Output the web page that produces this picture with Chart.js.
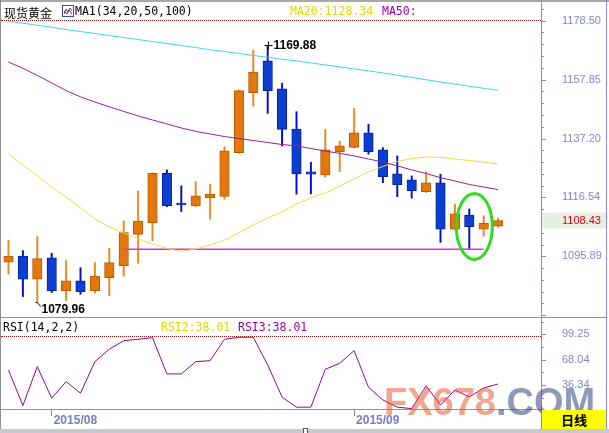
<!DOCTYPE html>
<html>
<head>
<meta charset="utf-8">
<script src="https://cdn.jsdelivr.net/npm/chart.js@4.4.0/dist/chart.umd.min.js"></script>
<style>
  html, body { margin: 0; padding: 0; background: #fff; }
  #wrap { position: relative; width: 609px; height: 433px; overflow: hidden; background: #fff; }
  canvas { position: absolute; left: 0; }
  #main { top: 0; }
  #rsi { top: 317px; }
  .t { position: absolute; white-space: nowrap; line-height: 14px; height: 14px; }
  .mono { font-family: "DejaVu Sans Mono", monospace; font-size: 11.5px; }
  .ln { position: absolute; }
</style>
</head>
<body>
<div id="wrap">
  <canvas id="main" width="609" height="317"></canvas>
  <canvas id="rsi" width="609" height="116"></canvas>

  <!-- frame -->
  <div class="ln" style="left:0;top:0;width:609px;height:2px;background:#a8a8a8"></div>
  <div class="ln" style="left:0;top:0;width:1px;height:429px;background:#909090"></div>
  <div class="ln" style="left:1px;top:20px;width:540px;height:0;border-top:1px dotted #9a1010"></div>
  <div class="ln" style="left:1px;top:336px;width:540px;height:0;border-top:1px dotted #9a1010"></div>
  <div class="ln" style="left:0;top:317px;width:607px;height:1px;background:#8a8ad2"></div>
  <div class="ln" style="left:0;top:409px;width:541px;height:1px;background:#8a8ad2"></div>
  <div class="ln" style="left:541px;top:0;width:1px;height:430px;background:#8a8ad2"></div>
  <div class="ln" style="left:606px;top:0;width:1px;height:430px;background:#8a8ad2"></div>
  <div class="ln" style="left:0;top:429px;width:609px;height:4px;background:#c9c9d2"></div>
  <div class="ln" style="left:303px;top:428px;width:3px;height:5px;background:#fff;border:1px solid #555"></div>

  <!-- headers -->
  <div class="t" style="left:4px;top:4px;font:12px 'Noto Sans CJK SC';color:#000">现货黄金</div>
  <svg style="position:absolute;left:62px;top:5px" width="12" height="12">
    <rect x="0.5" y="0.5" width="11" height="11" fill="#fff" stroke="#3050b0"/>
    <polyline points="2,9 4,4 6,7 8,3 10,6" fill="none" stroke="#d02020" stroke-width="1"/>
    <polyline points="2,6 5,9 7,5 10,9" fill="none" stroke="#2040c0" stroke-width="1"/>
  </svg>
  <div class="t mono" style="left:75px;top:4px;color:#000">MA1(34,20,50,100)</div>
  <div class="t mono" id="ma20lbl" style="left:290px;top:4px;color:#e2d800"></div>
  <div class="t mono" style="left:382px;top:4px;color:#a000a0">MA50:</div>

  <div class="t mono" style="left:3px;top:320px;color:#000">RSI(14,2,2)</div>
  <div class="t mono" id="rsi2lbl" style="left:161px;top:320px;color:#e2d800"></div>
  <div class="t mono" id="rsi3lbl" style="left:238px;top:320px;color:#a000a0"></div>

  <!-- watermark -->
  <div class="t" style="left:384px;top:381px;height:38px;line-height:38px;font:bold 38px 'Liberation Sans';">
    <span style="color:rgba(232,84,40,0.52)">FX678</span><span style="color:rgba(50,70,130,0.55)">.COM</span>
  </div>

  <div class="ln" style="left:542px;top:410px;width:64px;height:19px;background:#ffff00;text-align:center;font:bold 13px 'Noto Sans CJK SC';line-height:19px;color:#000">日线</div>
</div>

<script>
// daily spot gold, 2015/07/29 .. 2015/09/15
const dates = ["2015/07/29", "2015/07/30", "2015/07/31", "2015/08/03", "2015/08/04", "2015/08/05", "2015/08/06",
  "2015/08/07", "2015/08/10", "2015/08/11", "2015/08/12", "2015/08/13", "2015/08/14", "2015/08/17", "2015/08/18",
  "2015/08/19", "2015/08/20", "2015/08/21", "2015/08/24", "2015/08/25", "2015/08/26", "2015/08/27", "2015/08/28",
  "2015/08/31", "2015/09/01", "2015/09/02", "2015/09/03", "2015/09/04", "2015/09/07", "2015/09/08", "2015/09/09",
  "2015/09/10", "2015/09/11", "2015/09/14", "2015/09/15"];

const opens = [1093.9, 1096.0, 1087.9, 1095.4, 1083.8, 1087.3, 1083.9, 1088.4, 1092.6, 1103.6, 1107.7, 1125.0,
  1114.3, 1113.6, 1116.5, 1116.9, 1132.2, 1153.3, 1164.4, 1154.6, 1140.5, 1125.5, 1124.4, 1132.6, 1134.1, 1139.2,
  1133.2, 1124.8, 1122.7, 1118.6, 1121.7, 1105.4, 1110.4, 1105.4, 1106.5];
const highs = [1101.6, 1097.9, 1102.8, 1097.0, 1094.4, 1091.9, 1093.7, 1098.7, 1108.3, 1118.8, 1125.2, 1126.2,
  1120.6, 1122.1, 1121.2, 1134.3, 1154.2, 1168.2, 1169.88, 1156.6, 1146.6, 1128.9, 1140.4, 1136.3, 1147.8, 1142.2,
  1134.0, 1131.1, 1124.1, 1125.6, 1124.7, 1114.2, 1112.5, 1110.1, 1109.2];
const lows = [1089.7, 1081.8, 1079.96, 1083.2, 1080.4, 1082.6, 1083.0, 1082.1, 1089.0, 1093.5, 1101.4, 1113.3,
  1111.6, 1113.3, 1108.9, 1115.9, 1132.0, 1148.6, 1146.0, 1134.6, 1117.7, 1117.8, 1123.6, 1125.6, 1133.8, 1131.7,
  1121.7, 1116.8, 1116.3, 1118.3, 1100.8, 1105.1, 1098.4, 1103.0, 1106.1];
const closes = [1096.0, 1087.9, 1095.1, 1083.8, 1087.3, 1083.5, 1089.0, 1093.7, 1104.2, 1108.3, 1125.0, 1113.7,
  1113.9, 1117.1, 1117.7, 1132.9, 1154.0, 1160.5, 1154.0, 1140.4, 1124.8, 1124.7, 1133.2, 1134.6, 1139.2, 1132.6,
  1123.8, 1120.9, 1118.9, 1121.7, 1105.4, 1110.8, 1106.3, 1107.5, 1108.43];

const ma20 = [1131.8, 1127.9, 1124.1, 1120.2, 1116.7, 1112.9, 1109.0, 1106.2, 1104.1, 1102.0, 1100.2, 1098.7,
  1097.6, 1098.5, 1099.9, 1101.6, 1104.1, 1106.9, 1109.4, 1111.5, 1114.3, 1116.4, 1118.1, 1120.6, 1123.0, 1125.5,
  1127.4, 1129.2, 1130.2, 1130.7, 1130.6, 1130.0, 1129.5, 1128.9, 1128.34];
const ma50 = [1164.0, 1161.8, 1159.3, 1156.7, 1154.0, 1151.8, 1150.0, 1148.3, 1146.7, 1145.1, 1143.7, 1142.3,
  1140.9, 1139.7, 1138.8, 1137.9, 1137.2, 1136.5, 1135.8, 1135.1, 1134.6, 1133.7, 1132.8, 1132.0, 1131.1, 1130.0,
  1129.0, 1127.6, 1126.2, 1124.9, 1123.5, 1122.3, 1121.1, 1120.2, 1119.3];
const ma100 = [1178.3, 1177.6, 1176.9, 1176.2, 1175.4, 1174.7, 1174.0, 1173.3, 1172.6, 1171.9, 1171.2, 1170.5,
  1169.8, 1169.1, 1168.3, 1167.7, 1167.0, 1166.3, 1165.7, 1165.0, 1164.4, 1163.7, 1163.0, 1162.3, 1161.6, 1160.9,
  1160.2, 1159.4, 1158.6, 1157.8, 1157.0, 1156.3, 1155.5, 1154.8, 1154.1];

const rsi = [55.3, 11.3, 59.4, 20.4, 40.9, 26.6, 65.5, 80.8, 91.4, 93.1, 95.1, 50.4, 50.4, 65.5, 66.7, 93.1, 95.6,
  95.6, 61.4, 21.7, 9.4, 9.4, 56.1, 63.5, 79.1, 34.0, 18.3, 9.4, 7.6, 35.5, 12.0, 30.5, 22.0, 33.0, 38.01];

const priceTicks = [1178.50, 1157.85, 1137.20, 1116.54, 1095.89];
const rsiTicks = [99.25, 68.04, 36.34];

// horizontal support line and the circled candles
const supportLevel = 1098.4;
const supportFrom = 8;
const supportTo = 33;
const circleIndex = 32.35;
const circlePrice = 1106.4;

const lastOf = a => a[a.length - 1];
document.getElementById("ma20lbl").textContent = "MA20:" + lastOf(ma20).toFixed(2);
document.getElementById("rsi2lbl").textContent = "RSI2:" + lastOf(rsi).toFixed(2);
document.getElementById("rsi3lbl").textContent = "RSI3:" + lastOf(rsi).toFixed(2);

const idx = dates.map((d, i) => i);
const up = closes.map((c, i) => c >= opens[i]);
const xMin = -0.59, xMax = 36.98;
const axisColor = "#8484cc";

function minorTicks(ticks, parts) {
  return {
    id: "minorTicks",
    afterDraw(chart) {
      const { ctx, scales: { y } } = chart;
      const step = (ticks[0] - ticks[1]) / parts;
      ctx.save();
      ctx.strokeStyle = axisColor;
      ctx.lineWidth = 1;
      ctx.beginPath();
      let k = Math.floor((y.max - ticks[0]) / step);
      for (let v = ticks[0] + k * step; v >= y.min; v -= step, k--) {
        const py = Math.round(y.getPixelForValue(v)) + 0.5;
        const len = (k % parts === 0) ? 4 : 2;
        ctx.moveTo(y.left, py);
        ctx.lineTo(y.left + 1 + len, py);
      }
      ctx.stroke();
      ctx.restore();
    }
  };
}

const marks = {
  id: "marks",
  afterDraw(chart) {
    const { ctx, scales: { x, y } } = chart;
    ctx.save();
    // highest high
    const hi = Math.max(...highs);
    const hx = Math.round(x.getPixelForValue(highs.indexOf(hi))) + 0.5;
    const hy = Math.round(y.getPixelForValue(hi)) + 0.5;
    ctx.strokeStyle = "#000";
    ctx.lineWidth = 1;
    ctx.beginPath();
    ctx.moveTo(hx - 4, hy); ctx.lineTo(hx + 4, hy);
    ctx.moveTo(hx, hy - 4); ctx.lineTo(hx, hy + 4);
    ctx.stroke();
    ctx.fillStyle = "#000";
    ctx.font = "bold 12px 'Liberation Sans', Arial";
    ctx.textBaseline = "middle";
    ctx.textAlign = "left";
    ctx.fillText(hi.toFixed(2), hx + 5, hy + 0.5);
    // lowest low
    const lo = Math.min(...lows);
    const lx = Math.round(x.getPixelForValue(lows.indexOf(lo))) + 0.5;
    const ly = Math.round(y.getPixelForValue(lo)) + 0.5;
    ctx.beginPath();
    ctx.moveTo(lx - 2, ly); ctx.lineTo(lx, ly); ctx.lineTo(lx + 3, ly + 4);
    ctx.stroke();
    ctx.fillText(lo.toFixed(2), lx + 4, ly + 7);
    // circle
    ctx.strokeStyle = "#30dc20";
    ctx.lineWidth = 3;
    ctx.beginPath();
    ctx.ellipse(x.getPixelForValue(circleIndex), y.getPixelForValue(circlePrice), 18, 33, 0, 0, Math.PI * 2);
    ctx.stroke();
    // last price tag
    const last = lastOf(closes);
    const py = y.getPixelForValue(last);
    ctx.fillStyle = "#e6eee6";
    ctx.fillRect(y.left + 1, py - 8, 64, 16);
    ctx.fillStyle = "#e00000";
    ctx.font = "11px 'Liberation Sans', Arial";
    ctx.fillText(last.toFixed(2), y.left + 21, py + 0.5);
    ctx.restore();
  }
};

const line = (vals, color, width) => ({
  type: "line",
  data: idx.map(i => ({ x: i, y: vals[i] })),
  borderColor: color,
  borderWidth: width,
  pointRadius: 0,
  order: 0
});

new Chart(document.getElementById("main"), {
  type: "bar",
  data: {
    datasets: [
      line(ma100, "#40d4e0", 1),
      line(ma50, "#9c1c9c", 1),
      line(ma20, "#e8e040", 1),
      {
        type: "line",
        data: [{ x: supportFrom, y: supportLevel }, { x: supportTo, y: supportLevel }],
        borderColor: "#e030dc",
        borderWidth: 1.5,
        pointRadius: 0,
        order: 0
      },
      {
        data: idx.map(i => ({ x: i, y: [opens[i], closes[i]] })),
        backgroundColor: up.map(u => u ? "#e2770c" : "#0c3ed2"),
        borderColor: up.map(u => u ? "#b85a00" : "#0020a0"),
        borderWidth: 1,
        borderSkipped: false,
        barThickness: 9.5,
        maxBarThickness: 9.5,
        minBarLength: 2,
        grouped: false,
        order: 1
      },
      {
        data: idx.map(i => ({ x: i, y: [lows[i], highs[i]] })),
        backgroundColor: up.map(u => u ? "#e88a1c" : "#0010c0"),
        barThickness: 1.3,
        maxBarThickness: 1.3,
        grouped: false,
        order: 2
      }
    ]
  },
  options: {
    responsive: false,
    animation: false,
    events: [],
    layout: { padding: { top: 3, left: 0, right: 0, bottom: 0 } },
    plugins: { legend: { display: false }, tooltip: { enabled: false } },
    scales: {
      x: { type: "linear", min: xMin, max: xMax, offset: false, display: false },
      y: {
        position: "right",
        min: 1074.64,
        max: 1184.70,
        afterBuildTicks: s => { s.ticks = priceTicks.map(v => ({ value: v })); },
        afterFit: s => { s.width = 68; s.paddingTop = 0; s.paddingBottom = 0; },
        ticks: {
          callback: v => v.toFixed(2),
          color: axisColor,
          font: { family: "Liberation Sans", size: 11 },
          padding: 21,
          autoSkip: false
        },
        grid: { display: false, drawTicks: false },
        border: { display: false }
      }
    }
  },
  plugins: [minorTicks(priceTicks, 5), marks]
});

const monthStarts = idx.filter(i => i > 0 && dates[i].slice(0, 7) !== dates[i - 1].slice(0, 7));

new Chart(document.getElementById("rsi"), {
  type: "line",
  data: {
    datasets: [{
      data: idx.map(i => ({ x: i, y: rsi[i] })),
      borderColor: "#990099",
      borderWidth: 1,
      pointRadius: 0
    }]
  },
  options: {
    responsive: false,
    animation: false,
    events: [],
    layout: { padding: { top: 1, left: 0, right: 0, bottom: 0 } },
    plugins: { legend: { display: false }, tooltip: { enabled: false } },
    scales: {
      x: {
        type: "linear",
        min: xMin,
        max: xMax,
        offset: false,
        afterBuildTicks: s => { s.ticks = monthStarts.map(i => ({ value: i })); },
        afterFit: s => { s.height = 23; s.paddingLeft = 0; s.paddingRight = 0; },
        ticks: {
          callback: v => dates[v].slice(0, 7),
          color: "#7a7ac8",
          font: { family: "Liberation Sans", size: 12, weight: "bold" },
          align: "start",
          labelOffset: 2,
          padding: -3,
          maxRotation: 0,
          autoSkip: false
        },
        grid: { drawOnChartArea: false, drawTicks: true, tickLength: 6, color: axisColor },
        border: { display: false }
      },
      y: {
        position: "right",
        min: 5.9,
        max: 119.35,
        afterBuildTicks: s => { s.ticks = rsiTicks.map(v => ({ value: v })); },
        afterFit: s => { s.width = 68; s.paddingTop = 0; s.paddingBottom = 0; },
        ticks: {
          callback: v => v.toFixed(2),
          color: axisColor,
          font: { family: "Liberation Sans", size: 11 },
          padding: 21,
          autoSkip: false
        },
        grid: { display: false, drawTicks: false },
        border: { display: false }
      }
    }
  },
  plugins: [minorTicks(rsiTicks, 2)]
});
</script>
</body>
</html>
